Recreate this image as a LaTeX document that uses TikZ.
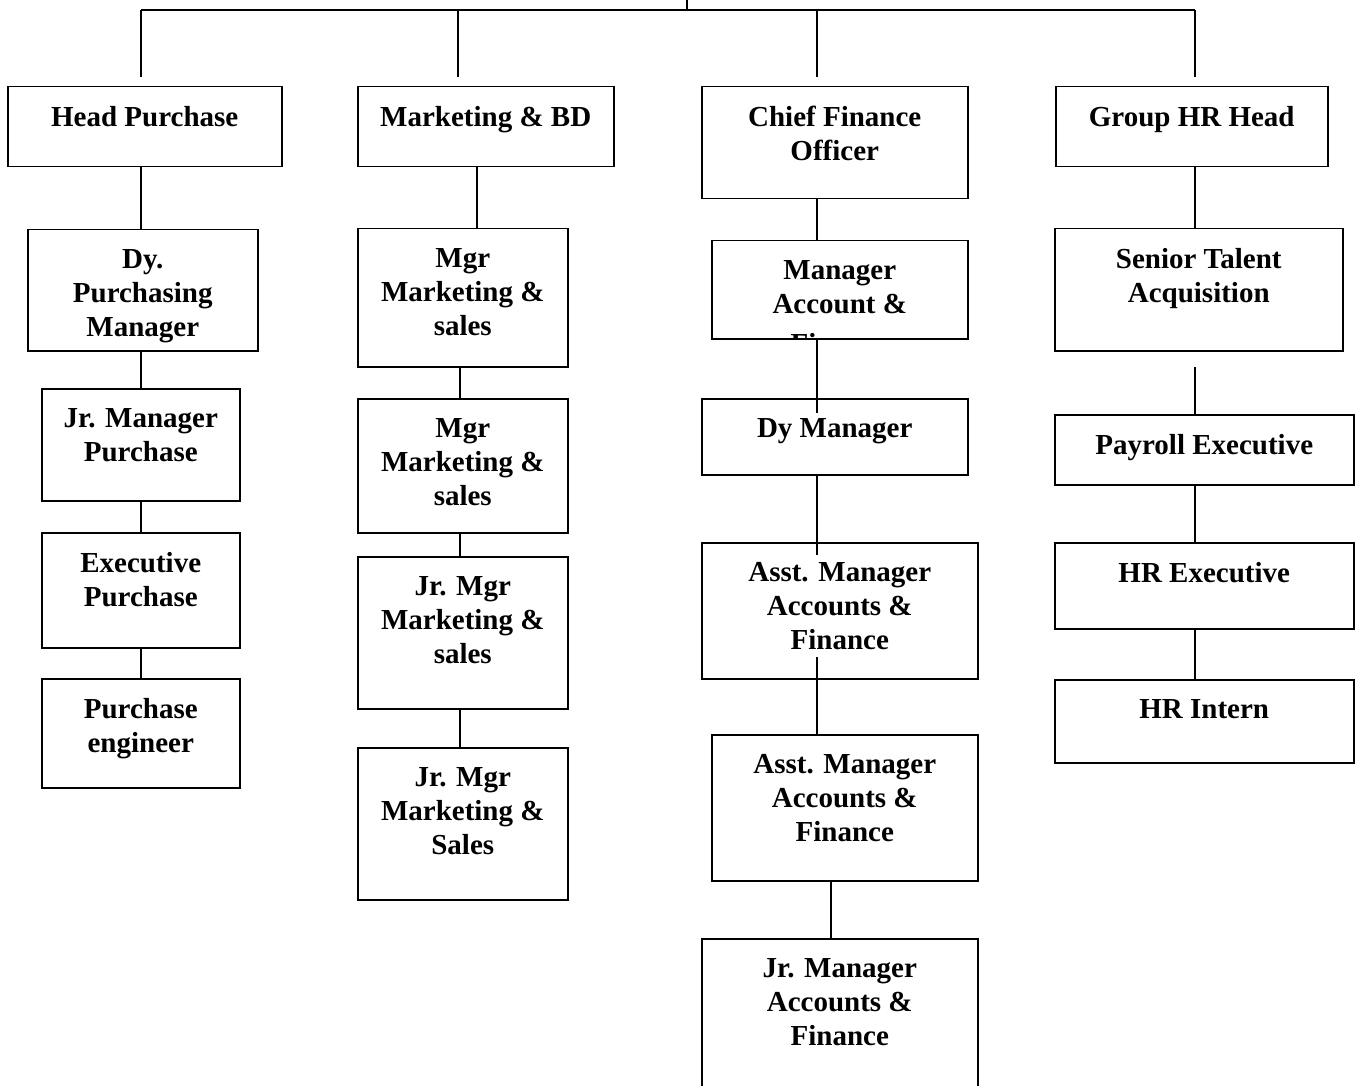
\documentclass[tikz,border=0pt]{standalone}
\usepackage{fontspec}
\setmainfont{Liberation Serif}
\usetikzlibrary{calc}

\tikzset{
  post/.style={draw, line width=1.5pt, anchor=north west, inner sep=0pt},
  posttext/.style={anchor=north, align=center, inner sep=0pt,
    font=\fontsize{29}{34}\selectfont\bfseries},
  link/.style={line width=1.5pt},
}

\begin{document}
\begin{tikzpicture}[x=1pt,y=-1pt]
            \clip (0,0) rectangle (1355,1086);
            \fill[white] (0,0) rectangle (1355,1086);

            % top level bar
            \coordinate (R) at (687,0);
            \coordinate (Bar) at (687,10);
            \coordinate (C1) at (141,77);
            \coordinate (C2) at (458,77);
            \coordinate (C3) at (817,77);
            \coordinate (C4) at (1195,77);
            \draw[link] (R) -- (Bar);
            \draw[line width=2.5pt] (Bar -| C1) -- (Bar -| C4);
            \foreach \c in {C1,C2,C3,C4}
              \draw[link] (Bar -| \c) -- (\c);

            % purchase
            \node[post, minimum width=274, minimum height=80] (HP) at (7,86) {};
            \node[post, minimum width=230, minimum height=121] (DPM) at (27,229) {};
            \node[post, minimum width=198, minimum height=112] (JMP) at (41,388) {};
            \node[post, minimum width=198, minimum height=115] (EP) at (41,532) {};
            \node[post, minimum width=198, minimum height=109] (PE) at (41,678) {};
            \node[posttext] (HPt) at ($(HP.north)+(0,20)$) {Head Purchase};
            \node[posttext] (DPMt) at ($(DPM.north)+(0,20)$) {Dy.\\Purchasing\\Manager};
            \node[posttext] (JMPt) at ($(JMP.north)+(0,20)$) {Jr. Manager\\Purchase};
            \node[posttext] (EPt) at ($(EP.north)+(0,20)$) {Executive\\Purchase};
            \node[posttext] (PEt) at ($(PE.north)+(0,20)$) {Purchase\\engineer};

            % marketing
            \node[post, minimum width=256, minimum height=80] (MBD) at (357,86) {};
            \node[post, minimum width=210, minimum height=138] (MS1) at (357,228) {};
            \node[post, minimum width=210, minimum height=134] (MS2) at (357,398) {};
            \node[post, minimum width=210, minimum height=152] (JMS1) at (357,556) {};
            \node[post, minimum width=210, minimum height=152] (JMS2) at (357,747) {};
            \node[posttext] (MBDt) at ($(MBD.north)+(0,20)$) {Marketing \& BD};
            \node[posttext] (MS1t) at ($(MS1.north)+(0,20)$) {Mgr\\Marketing \&\\sales};
            \node[posttext] (MS2t) at ($(MS2.north)+(0,20)$) {Mgr\\Marketing \&\\sales};
            \node[posttext] (JMS1t) at ($(JMS1.north)+(0,20)$) {Jr. Mgr\\Marketing \&\\sales};
            \node[posttext] (JMS2t) at ($(JMS2.north)+(0,20)$) {Jr. Mgr\\Marketing \&\\Sales};

            % finance
            \node[post, minimum width=266, minimum height=112] (CFO) at (701,86) {};
            \node[post, minimum width=256, minimum height=98] (MAF) at (711,240) {};
            \node[post, minimum width=266, minimum height=76] (DYM) at (701,398) {};
            \node[post, minimum width=276, minimum height=136] (AMA1) at (701,542) {};
            \node[post, minimum width=266, minimum height=146] (AMA2) at (711,734) {};
            \node[post, minimum width=276, minimum height=160] (JMA) at (701,938) {};
            \node[posttext] (CFOt) at ($(CFO.north)+(0,20)$) {Chief Finance\\Officer};
            \begin{scope}
              \clip (MAF.north west) rectangle ($(MAF.south east)+(0,-1)$);
              \node[posttext] (MAFt) at ($(MAF.north)+(0,20)$) {Manager\\Account \&\\[6pt]Finance};
            \end{scope}
            \node[posttext] (DYMt) at ($(DYM.north)+(0,20)$) {Dy Manager};
            \node[posttext] (AMA1t) at ($(AMA1.north)+(0,20)$) {Asst. Manager\\Accounts \&\\Finance};
            \node[posttext] (AMA2t) at ($(AMA2.north)+(0,20)$) {Asst. Manager\\Accounts \&\\Finance};
            \node[posttext] (JMAt) at ($(JMA.north)+(0,20)$) {Jr. Manager\\Accounts \&\\Finance};

            % hr
            \node[post, minimum width=272, minimum height=80] (HRH) at (1055,86) {};
            \node[post, minimum width=288, minimum height=122] (STA) at (1054,228) {};
            \node[post, minimum width=299, minimum height=70] (PAY) at (1054,414) {};
            \node[post, minimum width=299, minimum height=86] (HRE) at (1054,542) {};
            \node[post, minimum width=299, minimum height=83] (HRI) at (1054,679) {};
            \node[posttext] (HRHt) at ($(HRH.north)+(0,20)$) {Group HR Head};
            \node[posttext] (STAt) at ($(STA.north)+(0,20)$) {Senior Talent\\Acquisition};
            \node[posttext] (PAYt) at ($(PAY.north)+(0,20)$) {Payroll Executive};
            \node[posttext] (HREt) at ($(HRE.north)+(0,20)$) {HR Executive};
            \node[posttext] (HRIt) at ($(HRI.north)+(0,20)$) {HR Intern};

            % free ends of the finance and hr links
            \coordinate (F1) at (817,413);
            \coordinate (F2) at (817,555);
            \coordinate (F3) at (817,657);
            \coordinate (F4) at (831,0);
            \coordinate (H1) at (1195,367);
            \coordinate (M1) at (477,0);
            \coordinate (M2) at (460,0);

            \draw[link] (HP.south -| C1) -- (DPM.north -| C1);
            \draw[link] (DPM.south -| C1) -- (JMP.north -| C1);
            \draw[link] (JMP.south -| C1) -- (EP.north -| C1);
            \draw[link] (EP.south -| C1) -- (PE.north -| C1);

            \draw[link] (MBD.south -| M1) -- (MS1.north -| M1);
            \draw[link] (MS1.south -| M2) -- (MS2.north -| M2);
            \draw[link] (MS2.south -| M2) -- (JMS1.north -| M2);
            \draw[link] (JMS1.south -| M2) -- (JMS2.north -| M2);

            \draw[link] (CFO.south -| C3) -- (MAF.north -| C3);
            \draw[link] (MAF.south -| C3) -- (F1);
            \draw[link] (DYM.south -| C3) -- (F2);
            \draw[link] (F3) -- (AMA1.south -| C3) -- (AMA2.north -| C3);
            \draw[link] (AMA2.south -| F4) -- (JMA.north -| F4);

            \draw[link] (HRH.south -| C4) -- (STA.north -| C4);
            \draw[link] (H1) -- (PAY.north -| C4);
            \draw[link] (PAY.south -| C4) -- (HRE.north -| C4);
            \draw[link] (HRE.south -| C4) -- (HRI.north -| C4);
          \end{tikzpicture}
\end{document}
